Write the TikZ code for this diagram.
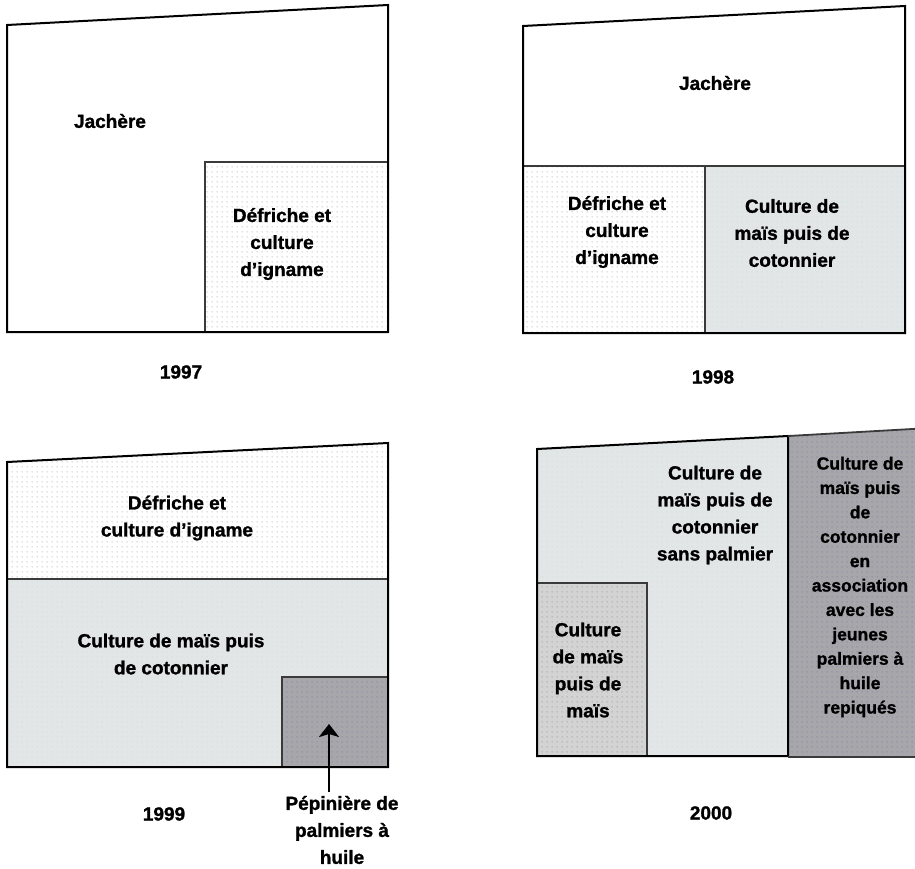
\documentclass[tikz,border=0pt]{standalone}
\usepackage{fontspec}
\setmainfont{Liberation Sans}[BoldFeatures={FakeBold=1.3}]
\usetikzlibrary{patterns.meta,arrows.meta}
\definecolor{lightc}{HTML}{E3E6E7}
\definecolor{midc}{HTML}{D3D3D3}
\definecolor{darkc}{HTML}{A6A6AB}
\definecolor{divc}{HTML}{3A3A3A}
\tikzdeclarepattern{
  name=sparsedots,
  type=uncolored,
  bounding box={(0pt,0pt) and (5pt,5pt)},
  tile size={(5pt,5pt)},
  code={\fill (2.5pt,2.5pt) circle (0.75pt);}
}
\tikzset{
  outer/.style={draw=black, line width=2pt, line join=miter},
  divider/.style={draw=divc, line width=1.8pt},
  dotfill/.style={pattern=sparsedots, pattern color=black!30},
  lightfill/.style={fill=lightc},
  lightdots/.style={pattern=sparsedots, pattern color=cyan!25!gray!35},
  midfill/.style={fill=midc},
  middots/.style={pattern=sparsedots, pattern color=black!40},
  darkfill/.style={fill=darkc},
  darkdots/.style={pattern=sparsedots, pattern color=blue!30!black!50},
  lbl/.style={align=center, inner sep=0pt, font=\fontsize{19}{27}\selectfont\bfseries},
  smalllbl/.style={align=center, inner sep=0pt, font=\fontsize{17.5}{24.4}\selectfont\bfseries},
  year/.style={inner sep=0pt, font=\fontsize{19}{22}\selectfont\bfseries},
  pointer/.style={draw=black, line width=2.4pt, -{Stealth[length=13pt,width=20pt,inset=3pt]}}
}
\begin{document}
\begin{tikzpicture}[x=1pt,y=-1pt]
\useasboundingbox (0,0) rectangle (915,869);
\begin{scope}
\clip (0,0) rectangle (915,869);
% ---------- 1997 ----------
\fill[dotfill] (205,162) rectangle (388,332);
\draw[divider] (205,332) -- (205,162) -- (388,162);
\draw[outer] (7,25) -- (388,5) -- (388,332) -- (7,332) -- cycle;
\node[lbl] (jach97) at (110,121) {Jachère};
\node[lbl] (def97) at (282,244) {Défriche et\\culture\\d’igname};
\node[year] (y97) at (181,372) {1997};
% ---------- 1998 ----------
\fill[dotfill] (523,166) rectangle (705,333);
\fill[lightfill] (705,166) rectangle (905,333);
\fill[lightdots] (705,166) rectangle (905,333);
\draw[divider] (523,166) -- (905,166);
\draw[divider] (705,166) -- (705,333);
\draw[outer] (523,26) -- (905,6) -- (905,333) -- (523,333) -- cycle;
\node[lbl] (jach98) at (715,83) {Jachère};
\node[lbl] (def98) at (617,232) {Défriche et\\culture\\d’igname};
\node[lbl] (cult98) at (792,233) {Culture de\\maïs puis de\\cotonnier};
\node[year] (y98) at (713,377) {1998};
% ---------- 1999 ----------
\fill[dotfill] (7,462) -- (388,443) -- (388,579) -- (7,579) -- cycle;
\fill[lightfill] (7,579) rectangle (388,767);
\fill[lightdots] (7,579) rectangle (388,767);
\fill[darkfill] (282,677) rectangle (388,767);
\fill[darkdots] (282,677) rectangle (388,767);
\draw[divider] (7,579) -- (388,579);
\draw[divider] (282,767) -- (282,677) -- (388,677);
\draw[outer] (7,462) -- (388,443) -- (388,767) -- (7,767) -- cycle;
\node[lbl] (def99) at (177,518) {Défriche et\\culture d’igname};
\node[lbl] (cult99) at (171,654) {Culture de maïs puis\\de cotonnier};
\node[year] (y99) at (164,814) {1999};
\node[lbl] (pep) at (342,830) {Pépinière de\\palmiers à\\huile};
\coordinate (peptip) at (329,724);
\draw[pointer] (pep.north -| peptip) ++(0,-4) -- (peptip);
% ---------- 2000 ----------
\fill[lightfill] (537,449) -- (788,436) -- (788,756) -- (537,756) -- cycle;
\fill[lightdots] (537,449) -- (788,436) -- (788,756) -- (537,756) -- cycle;
\fill[midfill] (537,583) rectangle (647,756);
\fill[middots] (537,583) rectangle (647,756);
\fill[darkfill] (788,436) -- (930,428) -- (930,757) -- (788,757) -- cycle;
\fill[darkdots] (788,436) -- (930,428) -- (930,757) -- (788,757) -- cycle;
\draw[divider] (537,583) -- (647,583) -- (647,756);
\draw[outer] (537,449) -- (788,436) -- (788,756) -- (537,756) -- cycle;
\draw[divider] (788,436) -- (930,428);
\draw[divider] (788,757) -- (930,757);
\node[lbl] (cult00) at (715,515) {Culture de\\maïs puis de\\cotonnier\\sans palmier};
\node[lbl] (mais00) at (588,670) {Culture\\de maïs\\puis de\\maïs};
\node[smalllbl] (assoc00) at (860,587) {Culture de\\maïs puis\\de\\cotonnier\\en\\association\\avec les\\jeunes\\palmiers à\\huile\\repiqués};
\node[year] (y00) at (711,813) {2000};
\end{scope}
\end{tikzpicture}
\end{document}
